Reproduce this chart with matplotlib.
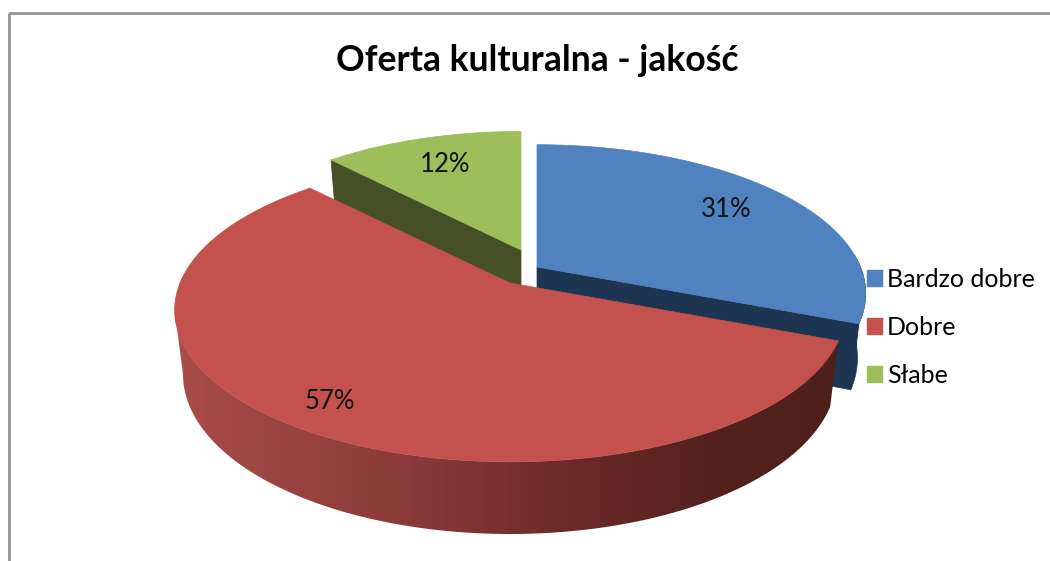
import numpy as np
import matplotlib
matplotlib.use("Agg")
import matplotlib.pyplot as plt
from matplotlib.colors import LinearSegmentedColormap
from matplotlib.patches import Patch, Polygon, Rectangle

# dane
title = "Oferta kulturalna - jakość"
categories = ["Bardzo dobre", "Dobre", "Słabe"]
values = [31, 57, 12]

# kolory
top_colors = ["#5082bf", "#c3524f", "#9ebd5b"]
wall_colors = ["#1d3550", "#4e201c", "#464f26"]

# uklad (piksele): wierzcholek kazdego wycinka i jego skala
apex = [(537, 267), (510, 283), (521, 250)]
scale = [0.98, 1.0, 0.95]
label_r = [0.76, 0.85, 0.74]
Sx, Sy = 330, 147
k = 0.178      # perspektywa
D = 63         # grubosc
f = 0.975      # dolna krawedz jest troche mniejsza

plt.rcParams['font.family'] = ['Lato', 'DejaVu Sans']
fig = plt.figure(figsize=(10.5, 5.61), dpi=100)
ax = fig.add_axes([0, 0, 1, 1])
ax.axis('off')

ax.add_patch(Rectangle((9, 13), 1100, 600, fill=False, ec="#939393", lw=2))


def top_xy(t, i, r=1.0):
    u, v = r * np.sin(t), r * np.cos(t)
    w = 1 + k * v
    return (apex[i][0] + scale[i] * Sx * u / w,
            apex[i][1] - scale[i] * Sy * v / w)


def bottom_xy(t, i, r=1.0):
    u, v = r * np.sin(t), r * np.cos(t)
    w = 1 + k * v
    return (apex[i][0] + f * scale[i] * Sx * u / w,
            apex[i][1] - f * scale[i] * Sy * v / w + D / w)


edges = np.radians(np.cumsum([0] + values) * 3.6)
rim_cmap = LinearSegmentedColormap.from_list(
    "rim", [(0, "#a84c48"), (0.35, "#8a3a38"), (0.6, "#6b2a28"), (0.85, "#52201d"), (1, "#4e201c")])


def side_poly(t, i):
    x, y = top_xy(t, i)
    xb, yb = bottom_xy(t, i)
    return np.vstack([np.column_stack([x, y]), np.column_stack([xb, yb])[::-1]])


def draw_top(i):
    t = np.linspace(edges[i], edges[i + 1], 200)
    x, y = top_xy(t, i)
    ax.add_patch(Polygon(np.vstack([[apex[i]], np.column_stack([x, y])]),
                         fc=top_colors[i], ec=top_colors[i], lw=0.5))


def draw_cut(i, e):
    # sciana przy wierzcholku
    ex, ey = top_xy(e, i)
    bx, by = bottom_xy(e, i)
    ax.add_patch(Polygon([apex[i], (ex, ey), (bx, by), (apex[i][0], apex[i][1] + D)],
                         fc=wall_colors[i], ec=wall_colors[i], lw=0.5))


# zielony
draw_cut(2, edges[2])
draw_top(2)

# niebieski
t = np.linspace(np.radians(85), edges[1], 60)
ax.add_patch(Polygon(side_poly(t, 0), fc=wall_colors[0], ec=wall_colors[0], lw=0.5))
draw_cut(0, edges[1])
draw_top(0)

# czerwony - bok z gradientem, obrys konczy sie na skrajnych lewych punktach
t = np.linspace(edges[1], edges[2], 400)
x, y = top_xy(t, 1)
xb, yb = bottom_xy(t, 1)
n_top = np.argmin(x) + 1
n_bot = np.argmin(xb) + 1
outline = np.vstack([np.column_stack([x[:n_top], y[:n_top]]),
                     np.column_stack([xb[:n_bot], yb[:n_bot]])[::-1]])
rim = Polygon(outline, fc='none', ec='none', transform=ax.transData)
ax.add_patch(rim)
img = ax.imshow(np.linspace(0, 1, 64)[None, :], cmap=rim_cmap, aspect='auto',
                extent=(175, 838, 561, 0), interpolation='nearest', zorder=1)
img.set_clip_path(rim)
draw_top(1)

ax.set_xlim(0, 1050)
ax.set_ylim(561, 0)

# etykiety procentowe
for i, v in enumerate(values):
    mid = (edges[i] + edges[i + 1]) / 2
    lx, ly = top_xy(mid, i, label_r[i])
    ax.text(lx, ly, f"{v}%", fontsize=18.5, ha='center', va='center', color="#111111")

ax.text(537, 60, title, fontsize=25.6, fontweight='bold', ha='center', va='center', color="black")

handles = [Patch(fc=c, ec=c) for c in top_colors]
ax.legend(handles, categories, loc='upper left', bbox_to_anchor=(867, 268),
          bbox_transform=ax.transData, frameon=False, fontsize=18,
          handlelength=0.6, handleheight=0.6, handletextpad=0.2,
          labelspacing=1.0, borderaxespad=0, borderpad=0)

fig.savefig("out.png", dpi=100)
